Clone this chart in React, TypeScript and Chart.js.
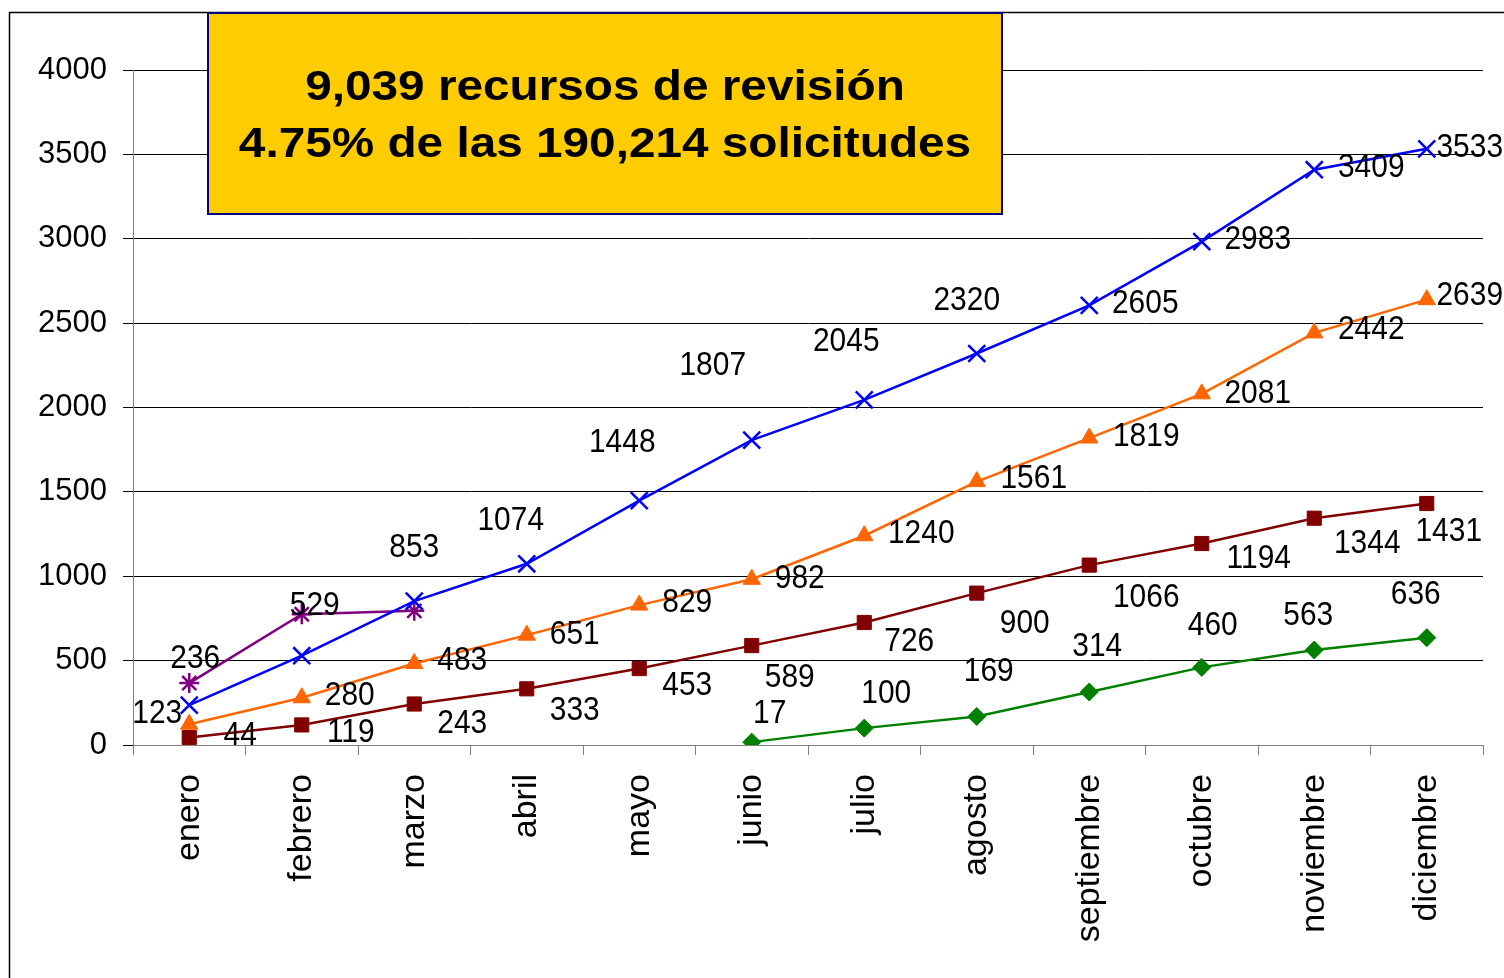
import React, { useEffect, useRef } from "react";
import { Chart, registerables } from "chart.js";

Chart.register(...registerables);

const months = [
  "enero", "febrero", "marzo", "abril", "mayo", "junio",
  "julio", "agosto", "septiembre", "octubre", "noviembre", "diciembre",
];

const blueSeries = [236, 529, 853, 1074, 1448, 1807, 2045, 2320, 2605, 2983, 3409, 3533];
const orangeSeries = [123, 280, 483, 651, 829, 982, 1240, 1561, 1819, 2081, 2442, 2639];
const redSeries = [44, 119, 243, 333, 453, 589, 726, 900, 1066, 1194, 1344, 1431];
const greenSeries = [null, null, null, null, null, 17, 100, 169, 314, 460, 563, 636];
const purpleSeries = [367, 775, 795, null, null, null, null, null, null, null, null, null];

const yTicks = [0, 500, 1000, 1500, 2000, 2500, 3000, 3500, 4000];

const titleLines = ["9,039 recursos de revisión", "4.75% de las 190,214 solicitudes"];

// label placement (dx, dy from the point, label centre)
const blueLabelOffsets = [[6, -47], [13, -50], [0, -53], [-16, -43], [-17, -58], [-39, -74], [-18, -58], [-10, -53], [56, -2], [56, -2], [57, -2], [43, -1]];
const orangeLabelOffsets = [[-32, -11], [48, -2], [48, -3], [48, -1], [48, -2], [48, -1], [57, -2], [57, -3], [57, -1], [56, 0], [57, -3], [43, -4]];
const redLabelOffsets = [[51, -2], [49, 8], [48, 20], [48, 22], [48, 17], [38, 32], [45, 19], [48, 30], [57, 33], [57, 15], [53, 25], [22, 28]];
const greenLabelOffsets = [null, null, null, null, null, [18, -29], [22, -35], [12, -45], [8, -45], [11, -42], [-6, -34], [-11, -43]];

const SANS = "'Liberation Sans', Arial, sans-serif";

export default function App() {
  const ref = useRef<HTMLCanvasElement | null>(null);

  useEffect(() => {
    const canvas = ref.current;
    if (!canvas) return;

    const offsetsByDataset: (number[] | null)[][] = [
      blueLabelOffsets, orangeLabelOffsets, redLabelOffsets, greenLabelOffsets, [],
    ];

    const decorPlugin = {
      id: "decor",
      beforeDraw(chart: any) {
        const ctx = chart.ctx;
        ctx.save();
        ctx.fillStyle = "#ffffff";
        ctx.fillRect(0, 0, chart.width, chart.height);
        ctx.restore();
      },
      afterDatasetsDraw(chart: any) {
        const ctx = chart.ctx;
        chart.data.datasets.forEach((ds: any, di: number) => {
          const offs = offsetsByDataset[di] || [];
          const meta = chart.getDatasetMeta(di);
          meta.data.forEach((pt: any, i: number) => {
            const v = ds.data[i];
            const o = offs[i];
            if (v == null || !o) return;
            ctx.save();
            ctx.translate(pt.x + o[0], pt.y + o[1]);
            ctx.scale(0.88, 1);
            ctx.font = "34px " + SANS;
            ctx.fillStyle = "#000000";
            ctx.textAlign = "center";
            ctx.textBaseline = "middle";
            ctx.fillText(String(v), 0, 0);
            ctx.restore();
          });
        });
      },
      afterDraw(chart: any) {
        const ctx = chart.ctx;
        ctx.save();
        // outer frame
        ctx.strokeStyle = "#000000";
        ctx.lineWidth = 1.5;
        ctx.beginPath();
        ctx.moveTo(9.5, chart.height);
        ctx.lineTo(9.5, 12.5);
        ctx.lineTo(chart.width, 12.5);
        ctx.stroke();
        // title box
        const bx = 208, by = 13, bw = 794, bh = 201;
        ctx.fillStyle = "#FFCC00";
        ctx.fillRect(bx, by, bw, bh);
        ctx.strokeStyle = "#000080";
        ctx.lineWidth = 2;
        ctx.strokeRect(bx, by, bw, bh);
        ctx.fillStyle = "#000000";
        ctx.font = "bold 43px " + SANS;
        ctx.textAlign = "center";
        ctx.textBaseline = "middle";
        const cx = bx + bw / 2;
        const ys = [88, 145];
        titleLines.forEach((t, i) => {
          ctx.save();
          ctx.translate(cx, ys[i]);
          ctx.scale(1.11, 1);
          ctx.fillText(t, 0, 0);
          ctx.restore();
        });
        ctx.restore();
      },
    };

    const chart = new Chart(canvas, {
      type: "line",
      data: {
        labels: months,
        datasets: [
          {
            label: "azul",
            data: blueSeries,
            borderColor: "#0000FF",
            backgroundColor: "#0000FF",
            borderWidth: 2.5,
            pointStyle: "crossRot",
            pointRadius: 12,
            pointBorderWidth: 2.5,
            pointBorderColor: "#0000FF",
          },
          {
            label: "naranja",
            data: orangeSeries,
            borderColor: "#FF6600",
            backgroundColor: "#FF6600",
            borderWidth: 2.5,
            pointStyle: "triangle",
            pointRadius: 10,
            pointBorderWidth: 1,
            pointBorderColor: "#FF6600",
          },
          {
            label: "granate",
            data: redSeries,
            borderColor: "#800000",
            backgroundColor: "#800000",
            borderWidth: 2.5,
            pointStyle: "rect",
            pointRadius: 10,
            pointBorderWidth: 1,
            pointBorderColor: "#800000",
          },
          {
            label: "verde",
            data: greenSeries,
            borderColor: "#008000",
            backgroundColor: "#008000",
            borderWidth: 2.5,
            pointStyle: "rectRot",
            pointRadius: 9,
            pointBorderWidth: 1,
            pointBorderColor: "#008000",
          },
          {
            label: "morado",
            data: purpleSeries,
            borderColor: "#800080",
            backgroundColor: "#800080",
            borderWidth: 2.5,
            pointStyle: "star",
            pointRadius: 10,
            pointBorderWidth: 2.5,
            pointBorderColor: "#800080",
          },
        ],
      },
      options: {
        responsive: false,
        animation: false,
        devicePixelRatio: 1,
        layout: { padding: { top: 70, right: 21, left: 0, bottom: 0 } },
        plugins: {
          legend: { display: false },
          tooltip: { enabled: false },
        },
        elements: { line: { tension: 0 } },
        scales: {
          x: {
            type: "category",
            offset: true,
            grid: {
              display: true,
              drawOnChartArea: false,
              drawTicks: true,
              tickLength: 10,
              offset: true,
              color: "#808080",
            },
            border: { display: true, color: "#808080", width: 1 },
            ticks: {
              color: "#000000",
              font: { family: SANS, size: 34 },
              minRotation: 90,
              maxRotation: 90,
              padding: 19,
              autoSkip: false,
            },
            afterFit(scale: any) {
              scale.height = 233;
            },
          },
          y: {
            min: 0,
            max: 4000,
            afterBuildTicks(scale: any) {
              scale.ticks = yTicks.map((v) => ({ value: v }));
            },
            grid: {
              color: "#000000",
              lineWidth: 1,
              tickLength: 10,
              drawTicks: true,
            },
            border: { display: true, color: "#808080", width: 1 },
            ticks: {
              color: "#000000",
              font: { family: SANS, size: 31 },
              padding: 16,
              callback: (v: any) => String(v),
            },
            afterFit(scale: any) {
              scale.width = 133;
            },
          },
        },
      },
      plugins: [decorPlugin],
    } as any);

    return () => chart.destroy();
  }, []);

  return (
    <div style={{ position: "absolute", left: 0, top: 0, width: 1504, height: 978 }}>
      <canvas ref={ref} width={1504} height={978} style={{ width: 1504, height: 978, display: "block" }} />
    </div>
  );
}
